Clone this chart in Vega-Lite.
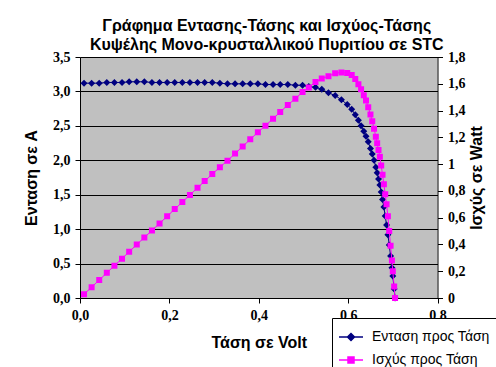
{
  "$schema": "https://vega.github.io/schema/vega-lite/v6.json",
  "autosize": "none",
  "width": 357.5,
  "height": 241,
  "padding": {"left": 80, "top": 57, "right": 58.5, "bottom": 69},
  "background": "white",
  "title": {
    "text": ["Γράφημα Εντασης-Τάσης και Ισχύος-Τάσης", "Κυψέλης Μονο-κρυσταλλικού Πυριτίου σε STC"],
    "anchor": "middle",
    "frame": "group",
    "offset": 6,
    "dx": 8,
    "dy": 25,
    "font": "Liberation Sans",
    "fontSize": 16,
    "fontWeight": "bold",
    "color": "black",
    "lineHeight": 19,
    "baseline": "bottom"
  },
  "data": {
    "values": [
      {"V": 0.009, "I": 3.12, "P": 0.028},
      {"V": 0.026, "I": 3.12, "P": 0.081},
      {"V": 0.043, "I": 3.12, "P": 0.134},
      {"V": 0.060, "I": 3.13, "P": 0.188},
      {"V": 0.077, "I": 3.13, "P": 0.241},
      {"V": 0.094, "I": 3.13, "P": 0.294},
      {"V": 0.110, "I": 3.14, "P": 0.345},
      {"V": 0.127, "I": 3.14, "P": 0.399},
      {"V": 0.144, "I": 3.14, "P": 0.452},
      {"V": 0.161, "I": 3.13, "P": 0.504},
      {"V": 0.178, "I": 3.13, "P": 0.557},
      {"V": 0.195, "I": 3.13, "P": 0.610},
      {"V": 0.212, "I": 3.13, "P": 0.664},
      {"V": 0.229, "I": 3.13, "P": 0.717},
      {"V": 0.246, "I": 3.13, "P": 0.770},
      {"V": 0.263, "I": 3.13, "P": 0.823},
      {"V": 0.279, "I": 3.13, "P": 0.873},
      {"V": 0.296, "I": 3.13, "P": 0.926},
      {"V": 0.313, "I": 3.12, "P": 0.977},
      {"V": 0.330, "I": 3.11, "P": 1.026},
      {"V": 0.347, "I": 3.11, "P": 1.079},
      {"V": 0.364, "I": 3.11, "P": 1.132},
      {"V": 0.381, "I": 3.11, "P": 1.185},
      {"V": 0.398, "I": 3.11, "P": 1.238},
      {"V": 0.415, "I": 3.10, "P": 1.287},
      {"V": 0.432, "I": 3.10, "P": 1.339},
      {"V": 0.448, "I": 3.10, "P": 1.389},
      {"V": 0.465, "I": 3.10, "P": 1.442},
      {"V": 0.482, "I": 3.09, "P": 1.489},
      {"V": 0.498, "I": 3.09, "P": 1.539},
      {"V": 0.512, "I": 3.07, "P": 1.572},
      {"V": 0.527, "I": 3.06, "P": 1.613},
      {"V": 0.541, "I": 3.03, "P": 1.639},
      {"V": 0.556, "I": 2.98, "P": 1.657},
      {"V": 0.571, "I": 2.94, "P": 1.679},
      {"V": 0.585, "I": 2.88, "P": 1.685},
      {"V": 0.598, "I": 2.81, "P": 1.680},
      {"V": 0.608, "I": 2.74, "P": 1.666},
      {"V": 0.616, "I": 2.66, "P": 1.635},
      {"V": 0.623, "I": 2.58, "P": 1.597},
      {"V": 0.629, "I": 2.50, "P": 1.560},
      {"V": 0.635, "I": 2.42, "P": 1.515},
      {"V": 0.640, "I": 2.35, "P": 1.475},
      {"V": 0.645, "I": 2.27, "P": 1.425},
      {"V": 0.650, "I": 2.17, "P": 1.370},
      {"V": 0.654, "I": 2.09, "P": 1.320},
      {"V": 0.658, "I": 2.00, "P": 1.265},
      {"V": 0.662, "I": 1.90, "P": 1.205},
      {"V": 0.665, "I": 1.82, "P": 1.155},
      {"V": 0.668, "I": 1.73, "P": 1.105},
      {"V": 0.671, "I": 1.64, "P": 1.055},
      {"V": 0.674, "I": 1.54, "P": 0.990},
      {"V": 0.677, "I": 1.43, "P": 0.920},
      {"V": 0.680, "I": 1.32, "P": 0.850},
      {"V": 0.683, "I": 1.19, "P": 0.775},
      {"V": 0.686, "I": 1.06, "P": 0.700},
      {"V": 0.689, "I": 0.92, "P": 0.610},
      {"V": 0.692, "I": 0.77, "P": 0.500},
      {"V": 0.695, "I": 0.61, "P": 0.390},
      {"V": 0.698, "I": 0.44, "P": 0.280},
      {"V": 0.700, "I": 0.32, "P": 0.200},
      {"V": 0.703, "I": 0.13, "P": 0.085},
      {"V": 0.705, "I": 0.00, "P": 0.000}
    ]
  },
  "encoding": {
    "x": {
      "field": "V",
      "type": "quantitative",
      "scale": {"domain": [0, 0.8], "nice": false, "zero": false},
      "axis": {
        "values": [0, 0.2, 0.4, 0.6, 0.8],
        "labelExpr": "replace(format(datum.value, '.1f'), '.', ',')",
        "title": "Τάση σε Volt",
        "titlePadding": 12,
        "labelPadding": 5,
        "grid": false
      }
    }
  },
  "layer": [
    {
      "encoding": {
        "y": {
          "field": "I",
          "type": "quantitative",
          "scale": {"domain": [0, 3.5], "nice": false},
          "axis": {
            "orient": "left",
            "values": [0, 0.5, 1, 1.5, 2, 2.5, 3, 3.5],
            "labelExpr": "replace(format(datum.value, '.1f'), '.', ',')",
            "title": "Ενταση σε A",
            "titlePadding": 13,
            "grid": true,
            "gridColor": "black",
            "gridWidth": 1,
            "gridOpacity": 1
          }
        }
      },
      "layer": [
        {"mark": {"type": "line", "color": "#000080", "strokeWidth": 1}},
        {
          "mark": {"type": "point", "filled": true, "opacity": 1, "size": 400, "strokeWidth": 0},
          "encoding": {
            "color": {
              "datum": "Ενταση προς Τάση",
              "type": "nominal",
              "scale": {"domain": ["Ενταση προς Τάση", "Ισχύς προς Τάση"], "range": ["#000080", "#FF00FF"]}
            },
            "stroke": {
              "datum": "Ενταση προς Τάση",
              "type": "nominal",
              "scale": {"domain": ["Ενταση προς Τάση", "Ισχύς προς Τάση"], "range": ["#000080", "#FF00FF"]}
            },
            "shape": {
              "datum": "Ενταση προς Τάση",
              "type": "nominal",
              "scale": {
                "domain": ["Ενταση προς Τάση", "Ισχύς προς Τάση"],
                "range": ["M-1.2,0L1.2,0M0,-0.35L0.35,0L0,0.35L-0.35,0Z", "M-1.2,0L1.2,0M-0.3,-0.3L0.3,-0.3L0.3,0.3L-0.3,0.3Z"]
              }
            }
          }
        }
      ]
    },
    {
      "encoding": {
        "y": {
          "field": "P",
          "type": "quantitative",
          "scale": {"domain": [0, 1.8], "nice": false},
          "axis": {
            "orient": "right",
            "values": [0, 0.2, 0.4, 0.6, 0.8, 1, 1.2, 1.4, 1.6, 1.8],
            "labelExpr": "replace(format(datum.value, '~g'), '.', ',')",
            "title": "Ισχύς σε Watt",
            "titleAngle": 270,
            "titlePadding": 19,
            "grid": false
          }
        }
      },
      "layer": [
        {"mark": {"type": "line", "color": "#FF00FF", "strokeWidth": 1}},
        {
          "mark": {"type": "point", "filled": true, "opacity": 1, "size": 400, "strokeWidth": 0},
          "encoding": {
            "color": {"datum": "Ισχύς προς Τάση", "type": "nominal"},
            "stroke": {"datum": "Ισχύς προς Τάση", "type": "nominal"},
            "shape": {"datum": "Ισχύς προς Τάση", "type": "nominal"}
          }
        }
      ]
    }
  ],
  "resolve": {"scale": {"y": "independent"}},
  "config": {
    "view": {"fill": "#C0C0C0", "stroke": null},
    "axis": {
      "domainColor": "black",
      "tickColor": "black",
      "tickSize": 5,
      "labelColor": "black",
      "labelFont": "Liberation Serif",
      "labelFontSize": 14,
      "labelFontWeight": "bold",
      "labelPadding": 5,
      "labelOverlap": false,
      "labelFlush": false,
      "titleColor": "black",
      "titleFont": "Liberation Sans",
      "titleFontSize": 16,
      "titleFontWeight": "bold"
    },
    "legend": {
      "orient": "none",
      "legendX": 252,
      "legendY": 261,
      "title": null,
      "fillColor": "white",
      "strokeColor": "black",
      "padding": 8,
      "labelFont": "Liberation Sans",
      "labelFontSize": 14,
      "labelColor": "black",
      "symbolSize": 400,
      "symbolStrokeWidth": 1.5,
      "symbolOpacity": 1,
      "rowPadding": 5,
      "labelOffset": 10
    }
  }
}
